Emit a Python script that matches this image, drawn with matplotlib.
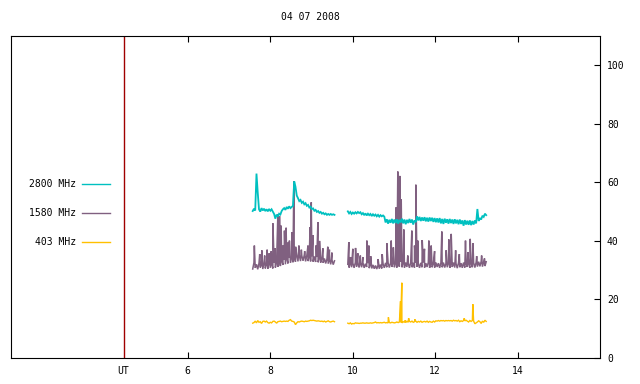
import numpy as np
import matplotlib
matplotlib.use('Agg')
import matplotlib.pyplot as plt

title = '04 07 2008'
labels = ['2800 MHz', '1580 MHz', '403 MHz']
colors = ['#00c0c0', '#806080', '#ffc000']
ut_hour = 4.45
x_ticks = [ut_hour, 6, 8, 10, 12, 14]
x_ticklabels = ['UT', '6', '8', '10', '12', '14']
y_ticks = [0, 20, 40, 60, 80, 100]

# two recording segments (hours UT)
seg1 = (7.58, 9.563)
seg2 = (9.886, 13.241)

# 2800 MHz
f2800_a = [50.2, 51.0, 50.4, 63.0, 56.5, 50.8, 50.0, 51.2, 50.4, 51.0, 50.2, 50.8, 50.1, 50.9, 50.3, 50.8,
           50.0, 49.2, 47.6, 49.0, 48.3, 49.3, 49.0, 50.2, 50.8, 51.2, 50.6, 51.6, 51.0, 51.8, 51.2, 51.6,
           52.0, 60.3, 58.5, 55.5, 54.6, 53.6, 54.0, 53.0, 53.4, 52.5, 52.9, 52.0, 52.3, 51.4, 51.7, 50.9,
           51.1, 50.3, 50.6, 49.9, 50.2, 49.6, 49.9, 49.3, 49.6, 49.1, 49.4, 48.9, 49.2, 48.9, 49.2, 48.9,
           49.1, 48.9]
f2800_b = [50.1, 49.4, 49.9, 49.2, 49.7, 49.3, 49.8, 49.4, 49.9, 49.5, 49.8, 49.1, 49.5, 48.8, 49.4, 48.7,
           49.3, 48.8, 49.2, 48.5, 49.1, 48.6, 49.0, 48.4, 48.9, 48.3, 48.8, 48.4, 48.7, 48.3, 46.3, 47.4,
           45.9, 47.2, 46.2, 47.5, 46.0, 47.3, 46.1, 47.4, 45.9, 47.2, 46.3, 47.6, 46.0, 47.3, 45.7, 47.2,
           46.1, 47.5, 46.2, 47.3, 45.6, 47.0, 46.4, 48.4, 47.0, 48.2, 46.8, 48.0, 46.9, 48.1, 46.7, 47.9,
           46.6, 48.0, 46.8, 47.9, 46.5, 47.8, 46.4, 47.7, 46.3, 47.8, 46.0, 47.5, 45.8, 47.6, 46.2, 47.4,
           45.9, 47.5, 46.1, 47.3, 45.8, 47.4, 46.0, 47.2, 45.7, 47.3, 45.8, 47.0, 45.2, 47.1, 45.6, 46.9,
           45.5, 47.0, 45.4, 46.8, 45.6, 47.0, 46.0, 50.9, 46.8, 47.8, 47.3, 48.6, 48.2, 49.3, 48.8]

# 1580 MHz: noisy base level plus bursts
f1580_a = [30.4, 32.6, 30.8, 32.0, 30.3, 32.4, 30.9, 31.8, 30.4, 32.5, 30.6, 32.1, 30.5, 32.7, 30.8, 32.2,
           30.6, 32.5, 30.9, 32.8, 31.2, 33.0, 31.4, 33.3, 31.8, 33.6, 32.0, 34.0, 32.3, 34.2, 32.5,
           34.5, 32.7, 34.8, 32.9, 35.0, 33.0, 35.1, 33.1, 35.0, 33.2, 35.2, 33.0, 35.0, 33.1, 34.9, 33.0,
           34.8, 32.9, 34.7, 32.8, 34.5, 32.7, 34.4, 32.6, 34.2, 32.5, 34.0, 32.3, 33.8, 32.2, 33.6, 32.0,
           33.5, 31.9, 33.2]
f1580_b = [32.0, 30.9, 32.6, 31.0, 32.4, 30.8, 32.7, 31.1, 32.3, 30.9, 32.5, 31.0, 32.6, 30.8, 32.2, 31.1,
           32.4, 30.7, 32.1, 30.6, 31.8, 30.5, 31.6, 30.4, 31.7, 30.5, 31.9, 30.6, 32.2, 30.8, 32.5, 31.0,
           32.6, 30.9, 32.4, 31.1, 32.7, 31.0, 32.5, 30.9, 32.6, 31.2, 32.8, 31.0, 32.5, 30.9, 32.6, 31.1,
           32.4, 30.8, 32.7, 31.0, 32.5, 30.9, 32.6, 31.1, 32.3, 30.8, 32.5, 31.0, 32.6, 30.9, 32.4, 31.1,
           32.7, 30.8, 32.5, 31.0, 32.3, 30.9, 32.6, 31.1, 32.4, 30.8, 32.5, 31.0, 32.6, 30.9, 32.3, 31.0,
           32.5, 30.8, 32.4, 31.1, 32.6, 30.9, 32.3, 30.7, 32.5, 31.0, 32.4, 30.8, 32.6, 30.9, 32.3, 31.1,
           32.5, 30.8, 32.4, 31.0, 32.6, 30.9, 32.7, 31.2, 32.9, 31.3, 33.0, 31.2, 32.8, 31.4, 32.9]
spk1580_t = [7.62, 7.75, 7.80, 7.87, 7.93, 7.98, 8.03, 8.07, 8.12, 8.19, 8.23, 8.27, 8.32, 8.35, 8.39,
             8.44, 8.47, 8.53, 8.577, 8.62, 8.70, 8.76, 8.84, 8.92, 8.97, 9.00, 9.04, 9.12, 9.16, 9.20,
             9.28, 9.40, 9.44, 9.50,
             9.91, 9.95, 10.007, 10.073, 10.128, 10.19, 10.25, 10.347, 10.396, 10.44, 10.62, 10.72,
             10.832, 10.938, 10.99, 11.059, 11.098, 11.147, 11.181, 11.244, 11.34, 11.438, 11.503, 11.535,
             11.583, 11.69, 11.745, 11.85, 11.907, 11.99, 12.165, 12.27, 12.335, 12.393, 12.50, 12.59,
             12.739, 12.795, 12.853, 12.92, 13.01, 13.13, 13.20]
spk1580_v = [38.4, 35.5, 36.8, 35.0, 37.0, 35.8, 36.5, 46.0, 37.5, 49.2, 48.5, 45.2, 38.5, 43.5, 44.5,
             39.5, 40.1, 43.0, 60.3, 38.0, 38.4, 37.0, 36.5, 38.4, 44.7, 53.2, 42.0, 38.5, 46.4, 40.0,
             37.5, 38.0, 37.0, 36.0,
             39.6, 34.5, 37.3, 37.6, 35.8, 35.0, 34.5, 40.1, 38.4, 34.8, 33.8, 35.5,
             39.2, 40.1, 37.8, 51.5, 63.7, 62.2, 54.3, 43.9, 35.0, 43.5, 38.4, 59.2,
             40.1, 40.3, 37.3, 40.1, 38.4, 36.5, 43.2, 36.8, 40.5, 42.4, 36.8, 35.5,
             40.1, 36.2, 40.7, 39.2, 34.8, 35.0, 34.0]

# 403 MHz
f403_a = [11.9, 12.1, 12.6, 12.0, 12.8, 12.2, 12.4, 11.8, 12.5, 12.6, 12.3,
          12.6, 12.1, 11.9, 12.2, 12.0, 12.5, 12.6, 12.3, 11.9, 12.4,
          12.5, 12.6, 12.4, 12.5, 12.6, 12.5, 12.6, 12.5, 12.9, 13.1, 12.6, 12.5, 12.3,
          11.4, 12.0, 12.4, 12.3, 12.5, 12.6, 12.5, 12.4, 12.6, 12.5, 12.6, 12.7,
          12.9, 12.8, 12.9, 12.8, 12.7, 12.6, 12.7, 12.6, 12.5, 12.6,
          12.4, 12.6, 12.3, 12.5, 12.7, 12.4, 12.3, 12.5, 12.6, 12.4]
f403_b = [11.9, 11.7, 12.0, 11.6, 11.8, 11.7, 12.0, 11.9, 11.9, 11.8, 11.9, 11.9, 12.0, 11.9, 11.9, 12.0,
          11.9, 11.9, 12.0, 11.9, 12.0,
          12.1, 12.3, 12.0, 12.1, 12.0, 12.1, 12.0, 12.1, 12.2, 12.0, 12.1, 12.0, 12.1, 12.0, 12.2, 12.1,
          12.0, 12.1, 12.3, 12.1,
          12.3, 12.2, 12.0, 12.4, 12.2, 12.1, 12.6, 12.2, 12.5, 12.3, 12.6, 12.2, 12.4, 12.6, 12.2, 12.5,
          12.3, 12.6, 12.2, 12.4,
          12.5, 12.3, 12.6, 12.2, 12.5, 12.3, 12.2, 12.6, 12.3, 12.7, 12.6, 12.8, 12.6, 12.8, 12.7, 12.8,
          12.6, 12.8, 12.7, 12.8,
          12.7, 12.8, 12.6, 12.9, 12.7, 12.8, 12.6, 12.9, 12.4, 12.7, 12.5, 12.8, 12.7, 12.9, 12.6, 12.3,
          12.8, 12.5, 12.8, 12.6,
          11.7, 12.0, 12.3, 12.7, 12.4, 11.8, 12.6, 12.2, 12.9, 12.5]
spk403_t = [10.87, 11.164, 11.195, 11.28, 11.36, 11.51, 12.71, 12.916]
spk403_v = [13.9, 19.4, 25.7, 12.9, 13.6, 13.2, 13.6, 18.4]


def segment(span, vals, spk_t=(), spk_v=()):
    # regular samples over the span, bursts merged in by time
    t = np.linspace(span[0], span[1], len(vals))
    st = np.array([x for x in spk_t if span[0] <= x <= span[1]])
    sv = np.array([v for x, v in zip(spk_t, spk_v) if span[0] <= x <= span[1]])
    t = np.concatenate([t, st])
    v = np.concatenate([np.array(vals, float), sv])
    order = np.argsort(t, kind='stable')
    return t[order], v[order]


fig = plt.figure(figsize=(6.4, 3.84), dpi=100)
ax = fig.add_axes([11 / 640, 1 - 358 / 384, 589 / 640, 322 / 384])

series = [
    (f2800_a, f2800_b, (), (), 1.3),
    (f1580_a, f1580_b, spk1580_t, spk1580_v, 1.1),
    (f403_a, f403_b, spk403_t, spk403_v, 1.0),
]
for k in [1, 0, 2]:
    a, b, st, sv, lw = series[k]
    for span, vals in [(seg1, a), (seg2, b)]:
        t, v = segment(span, vals, st, sv)
        ax.plot(t, v, c=colors[k], lw=lw, solid_joinstyle='miter')

ax.axvline(ut_hour, c='#a00000', lw=1)

ax.set_xlim(1.72, 16.0)
ax.set_ylim(0, 110)

font = {'family': 'DejaVu Sans Mono', 'size': 7}
ax.set_xticks(x_ticks)
ax.set_xticklabels(x_ticklabels, **font)
ax.tick_params(axis='x', direction='in', length=4, width=0.8, top=True, bottom=True, pad=6)
ax.xaxis.get_major_ticks()[0].tick1line.set_visible(False)
ax.xaxis.get_major_ticks()[0].tick2line.set_visible(False)
ax.yaxis.tick_right()
ax.set_yticks(y_ticks)
ax.set_yticklabels([str(v) for v in y_ticks], **font)
ax.tick_params(axis='y', direction='in', length=4, width=0.8, right=True, left=False, pad=5)
for sp in ax.spines.values():
    sp.set_linewidth(0.8)

# gnuplot style key on the left
key_y = [0.540, 0.450, 0.360]
for lab, col, yk in zip(labels, colors, key_y):
    ax.text(0.110, yk, lab, transform=ax.transAxes, ha='right', va='center', **font)
    ax.plot([0.1205, 0.168], [yk, yk], transform=ax.transAxes, c=col, lw=1)

fig.text(310 / 640, 1 - 17 / 384, title, ha='center', va='center', **font)

fig.savefig('out.png', dpi=100)
